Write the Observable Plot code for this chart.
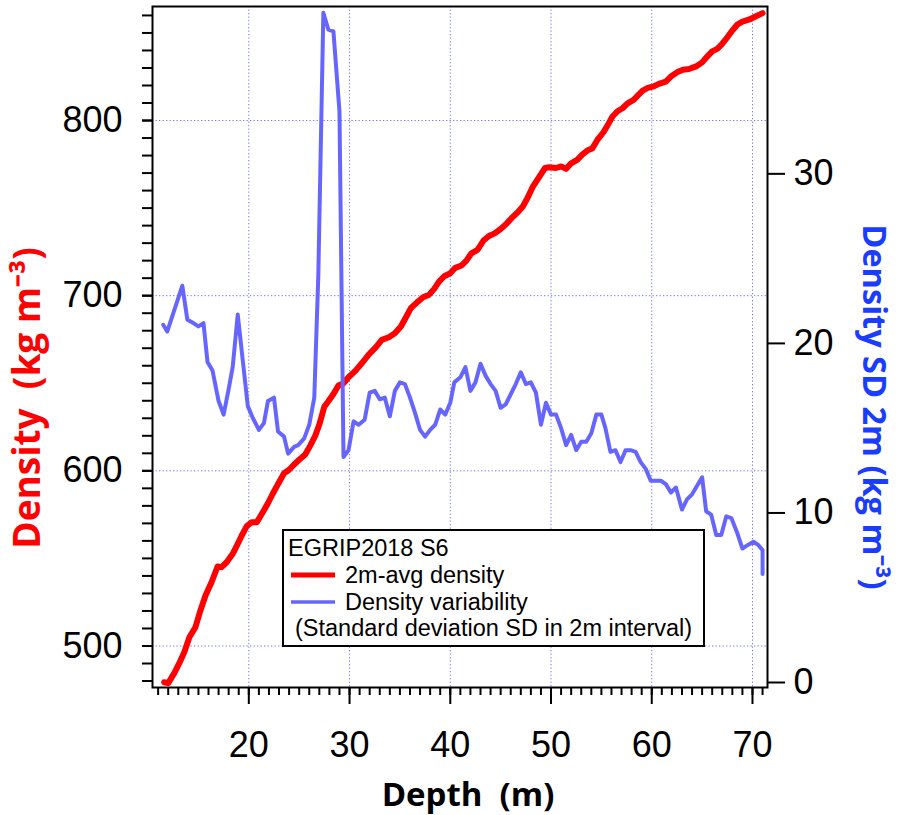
<!DOCTYPE html>
<html><head><meta charset="utf-8">
<script src="https://cdn.jsdelivr.net/npm/d3@7"></script>
<script src="https://cdn.jsdelivr.net/npm/@observablehq/plot@0.6"></script>
<style>
body{margin:0;background:#fff;}
#wrap{position:relative;width:898px;height:815px;overflow:hidden;}
#wrap svg{position:absolute;left:0;top:0;}
</style></head><body><div id="wrap"></div>
<script>
// 2 m averaged density (kg m-3) vs depth (m)
const densityDepth = [11.6,12.0,12.6,13.1,13.6,14.1,14.7,15.2,15.7,16.3,16.9,17.3,17.8,18.4,18.9,19.3,19.8,20.3,20.8,21.3,21.9,22.4,23.0,23.5,24.0,24.5,25.0,25.6,26.1,26.6,27.0,27.5,27.9,28.4,28.9,29.4,29.9,30.6,31.3,31.9,32.6,33.2,33.9,34.5,35.1,35.6,36.1,36.7,37.3,37.9,38.4,38.9,39.4,40.0,40.5,41.1,41.6,42.1,42.7,43.3,43.8,44.4,45.0,45.5,46.1,46.7,47.2,47.7,48.2,48.8,49.4,49.8,50.5,51.0,51.5,52.0,52.6,53.1,53.7,54.1,54.6,55.2,55.6,56.1,56.6,57.1,57.6,58.2,58.6,59.1,59.6,60.2,60.7,61.4,61.9,62.5,63.1,63.7,64.4,65.0,65.5,66.0,66.5,66.9,67.5,68.0,68.5,69.0,69.7,70.3,71.0];
const densityValues = [479.3,478.8,484.5,490.2,496.5,505,510.7,520.3,528.8,536.4,545.4,545,547.8,552.6,558.3,563.1,568.4,570.7,570.7,575.5,581.5,587.2,593.5,598.6,600.6,603.6,606.3,609.3,614.4,620.1,626.4,636.7,639.7,643.9,648.7,650,653.4,657.2,662,666.4,670.5,674.8,676.3,678.5,682.4,687.7,693,696.2,699.1,700.6,703.9,708.2,711.1,712.8,715.9,717.2,720,724.2,726.1,731.5,733.9,735.6,738.1,740.6,744.4,747.6,750.9,756.2,762.3,767.6,772.9,773.3,772.9,773.8,772.4,775.6,777.5,780.5,783.2,784.1,788.9,793.3,797.1,802.3,805.3,807,809.8,811.8,814.2,817.1,818.6,819.5,820.9,822.2,825.1,827.5,829,829.4,830.9,833.2,836.5,839.5,840.9,843.2,847.5,851.4,854.8,856.5,857.7,859.4,861.3];

// density variability: standard deviation in 2 m interval (kg m-3)
const sdDepth = [11.5,11.9,12.4,12.9,13.4,13.9,14.5,15.0,15.5,15.9,16.4,17.0,17.5,18.0,18.4,18.9,19.4,19.9,20.4,21.0,21.5,21.9,22.5,22.9,23.5,23.9,24.5,24.9,25.5,26.0,26.5,26.9,27.4,27.9,28.4,29.0,29.4,29.9,30.4,30.9,31.5,32.0,32.5,33.0,33.5,34.0,34.5,35.0,35.5,36.0,36.5,37.0,37.5,38.0,38.5,39.0,39.5,40.0,40.4,41.0,41.5,42.0,42.5,43.0,43.5,44.0,44.5,45.0,45.5,46.0,46.5,47.0,47.5,48.0,48.5,49.0,49.5,50.0,50.5,51.0,51.5,52.0,52.5,53.0,53.5,54.0,54.5,55.0,55.4,55.9,56.4,56.9,57.4,57.9,58.4,58.9,59.4,59.9,60.4,60.9,61.4,61.9,62.4,63.0,63.5,64.0,64.5,65.0,65.4,65.9,66.4,66.9,67.4,67.9,68.5,69.0,69.5,70.1,70.6,71.0,71.0];
const sdValues = [21.1,20.7,21.6,22.5,23.4,21.4,21.2,21.0,21.2,18.9,18.4,16.6,15.8,17.3,18.6,21.7,19.0,16.3,15.6,14.9,15.3,16.6,16.8,14.8,14.5,13.5,13.9,14.0,14.4,15.2,16.8,24.0,39.5,38.5,38.4,33.7,13.3,13.7,15.4,15.2,15.5,17.1,17.2,16.7,16.8,15.7,17.2,17.7,17.6,16.8,15.9,14.9,14.5,14.9,15.2,16.1,15.8,16.5,17.7,18.0,18.6,17.2,17.7,18.8,18.1,17.6,17.2,16.2,16.4,17.0,17.6,18.3,17.6,17.7,17.1,15.2,16.5,15.8,15.8,15.0,14.0,14.6,13.7,14.2,14.2,14.7,15.8,15.8,15.0,13.6,13.7,13.0,13.7,13.7,13.6,13.0,12.6,11.9,11.9,11.9,11.7,11.2,11.5,10.2,10.8,11.1,11.6,12.1,10.1,9.9,8.7,8.7,9.8,9.7,8.8,7.9,8.1,8.3,8.1,7.8,6.4];

const depthTicks = [20,30,40,50,60,70];
const densityTicks = [500,600,700,800];
const sdTicks = [0,10,20,30];
const depthMinorTicks = d3.range(11, 72, 1);
const densityMinorTicks = d3.range(480, 861, 10);

const xTitle = "Depth  (m)";
const leftTitle = "Density  (kg m⁻³)";
const rightTitle = "Density SD 2m (kg m⁻³)";
const legendTitle = "EGRIP2018 S6";
const legendItems = ["2m-avg density", "Density variability"];
const legendNote = "(Standard deviation SD in 2m interval)";

const W = 898, H = 815;
const M = {marginLeft: 152, marginRight: 131, marginTop: 6, marginBottom: 128};
const xDomain = [10.44, 71.49];
const RED = "#ff0000", BLUE = "#6666ff", TITLE_BLUE = "#1a3cff";
const tickFont = "'Liberation Sans', Arial, Helvetica, sans-serif";
const titleFont = "'Open Sans', 'Liberation Sans', sans-serif";
const gridStyle = {stroke: "#5a5aff", strokeOpacity: 0.85, strokeDasharray: "1.3,2.2", strokeWidth: 1};
const blank = () => "";

const p1 = Plot.plot({
  width: W, height: H, ...M,
  style: {background: "transparent", color: "black", fontFamily: tickFont, overflow: "visible"},
  x: {domain: xDomain},
  y: {domain: [476.3, 865.1]},
  marks: [
    Plot.gridX({ticks: depthTicks, ...gridStyle}),
    Plot.gridY({ticks: densityTicks, ...gridStyle}),
    Plot.line(densityValues, {x: densityDepth, y: densityValues, stroke: RED, strokeWidth: 6, strokeLinejoin: "round", strokeLinecap: "round"}),
    Plot.axisX({ticks: depthMinorTicks, anchor: "bottom", tickSize: 8, strokeWidth: 2, tickFormat: blank, label: null}),
    Plot.axisX({ticks: depthTicks, anchor: "bottom", tickSize: 17, tickPadding: 27, strokeWidth: 2, fontSize: 36, label: null}),
    Plot.axisY({ticks: densityMinorTicks, anchor: "left", tickSize: 10, strokeWidth: 2, tickFormat: blank, label: null}),
    Plot.axisY({ticks: densityTicks, anchor: "left", tickSize: 10, tickPadding: 20, strokeWidth: 2, fontSize: 36, label: null}),
    Plot.frame({stroke: "black", strokeWidth: 2}),
    Plot.text([xTitle], {frameAnchor: "bottom", dx: 8, dy: 108, textAnchor: "middle", lineAnchor: "middle", fontSize: 33, fontWeight: "bold", fontFamily: titleFont, fill: "black"}),
    Plot.text([leftTitle], {frameAnchor: "left", rotate: -90, dx: -124, dy: 51, textAnchor: "middle", lineAnchor: "middle", fontSize: 37, fontWeight: "bold", fontFamily: titleFont, fill: RED})
  ]
});

const p2 = Plot.plot({
  width: W, height: H, ...M,
  style: {background: "transparent", color: "black", fontFamily: tickFont, overflow: "visible"},
  x: {domain: xDomain, axis: null},
  y: {domain: [-0.295, 39.87]},
  marks: [
    Plot.line(sdValues, {x: sdDepth, y: sdValues, stroke: BLUE, strokeWidth: 4, strokeLinejoin: "round"}),
    Plot.axisY({ticks: sdTicks, anchor: "right", tickSize: 17, tickPadding: 9, strokeWidth: 2, fontSize: 36, label: null}),
    Plot.text([rightTitle], {frameAnchor: "right", rotate: 90, dx: 106, dy: 60, textAnchor: "middle", lineAnchor: "middle", fontSize: 32.5, fontWeight: "bold", fontFamily: titleFont, fill: TITLE_BLUE})
  ]
});

const wrap = document.getElementById("wrap");
wrap.appendChild(p1);
wrap.appendChild(p2);

// legend box (inside plot area)
const lg = d3.select(wrap).append("svg").attr("width", W).attr("height", H)
  .style("font-family", tickFont).style("font-size", "23.5px");
lg.append("rect").attr("x", 283).attr("y", 530).attr("width", 421).attr("height", 116)
  .attr("fill", "white").attr("stroke", "black").attr("stroke-width", 2);
lg.append("text").attr("x", 288).attr("y", 556).text(legendTitle);
lg.append("line").attr("x1", 291).attr("x2", 335).attr("y1", 575).attr("y2", 575).attr("stroke", RED).attr("stroke-width", 5);
lg.append("text").attr("x", 345).attr("y", 583).text(legendItems[0]);
lg.append("line").attr("x1", 291).attr("x2", 335).attr("y1", 602).attr("y2", 602).attr("stroke", BLUE).attr("stroke-width", 3.5);
lg.append("text").attr("x", 345).attr("y", 610).text(legendItems[1]);
lg.append("text").attr("x", 295).attr("y", 636).text(legendNote);
</script></body></html>
